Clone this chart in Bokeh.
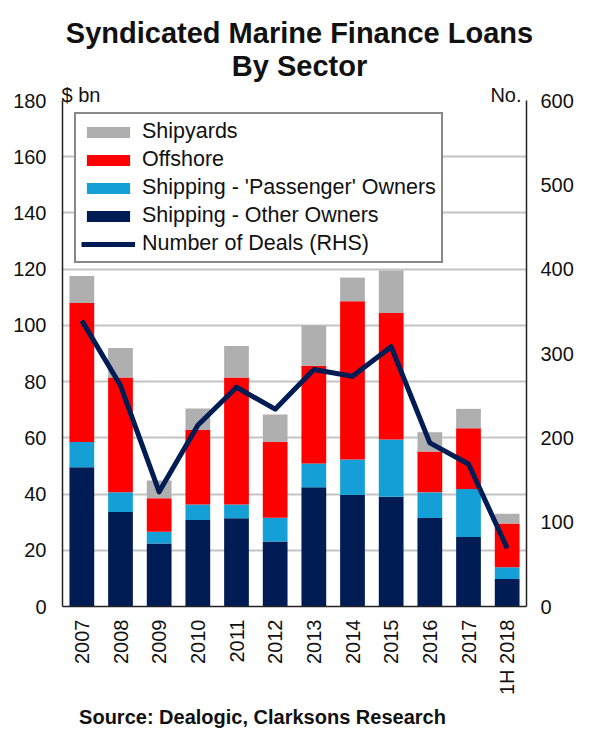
import math
from bokeh.plotting import figure
from bokeh.models import (FactorRange, Range1d, LinearAxis, FixedTicker, Legend,
                          LegendItem, ColumnDataSource)
from bokeh.core.properties import value
from bokeh.embed import file_html
from bokeh.resources import INLINE

# ---------------- data ----------------
years = ["2007", "2008", "2009", "2010", "2011", "2012", "2013", "2014",
         "2015", "2016", "2017", "1H 2018"]
other_owners = [49.5, 33.6, 22.4, 30.8, 31.4, 23.1, 42.4, 39.7, 39.0, 31.5, 24.7, 9.8]
passenger_owners = [9.0, 7.0, 4.2, 5.5, 4.9, 8.5, 8.5, 12.6, 20.4, 9.1, 17.1, 4.2]
offshore = [49.5, 40.9, 11.9, 26.5, 45.2, 26.9, 34.7, 56.3, 45.0, 14.5, 21.6, 15.5]
shipyards = [9.6, 10.5, 6.3, 7.6, 11.2, 9.8, 14.4, 8.4, 15.1, 6.9, 6.9, 3.5]
num_deals = [339, 262, 136, 215, 260, 234, 281, 273, 308, 194, 169, 69]

left_ticks = list(range(0, 181, 20))
right_ticks = list(range(0, 601, 100))

# ---------------- layout constants ----------------
W, H = 576, 730
FW, FH = 464, 506
ML, MT = 62, 100
MR = W - ML - FW
MB = H - MT - FH
FONT = "Liberation Sans"

NAVY = "#001C55"
LBLUE = "#14A0D6"
RED = "#FF0000"
GRAY = "#AFAFAF"
TXT = "#111111"

src = ColumnDataSource(dict(x=years, other=other_owners, passenger=passenger_owners,
                            offshore=offshore, shipyards=shipyards, deals=num_deals))

p = figure(x_range=FactorRange(factors=years, range_padding=0),
           y_range=Range1d(0, 180),
           frame_width=FW, frame_height=FH,
           min_border_left=ML, min_border_right=MR,
           min_border_top=MT, min_border_bottom=MB,
           output_backend="svg", toolbar_location=None,
           background_fill_color="white", border_fill_color="white")
p.extra_y_ranges = {"deals": Range1d(0, 600)}

stack = ["other", "passenger", "offshore", "shipyards"]
rs = p.vbar_stack(stack, x="x", width=0.64, source=src,
                  color=[NAVY, LBLUE, RED, GRAY], line_width=0)
ln = p.line(x="x", y="deals", source=src, y_range_name="deals",
            line_color=NAVY, line_width=5, line_join="round")

# axes
p.outline_line_color = None
p.xgrid.grid_line_color = None
p.ygrid.ticker = FixedTicker(ticks=left_ticks)
p.ygrid.grid_line_color = "#C4C4C4"
p.ygrid.grid_line_width = 2

yl = p.yaxis[0]
yl.ticker = FixedTicker(ticks=left_ticks)
yr = LinearAxis(y_range_name="deals", ticker=FixedTicker(ticks=right_ticks))
p.add_layout(yr, "right")
for ax in (yl, yr, p.xaxis[0]):
    ax.axis_line_color = "#222222"
    ax.axis_line_width = 1.5
    ax.major_tick_line_color = None
    ax.minor_tick_line_color = None
    ax.major_tick_out = 0
    ax.major_tick_in = 0
    ax.minor_tick_out = 0
    ax.major_label_text_font = FONT
    ax.major_label_text_font_size = "20px"
    ax.major_label_text_color = TXT
yl.major_label_standoff = 16
yr.major_label_standoff = 14
xa = p.xaxis[0]
xa.major_label_orientation = math.pi / 2
xa.major_label_standoff = 13

# legend
legend = Legend(items=[
    LegendItem(label="Shipyards", renderers=[rs[3]]),
    LegendItem(label="Offshore", renderers=[rs[2]]),
    LegendItem(label="Shipping - 'Passenger' Owners", renderers=[rs[1]]),
    LegendItem(label="Shipping - Other Owners", renderers=[rs[0]]),
    LegendItem(label="Number of Deals (RHS)", renderers=[ln]),
], location="top_left", margin=12, padding=5, spacing=3,
    glyph_width=54, glyph_height=14, label_standoff=7,
    label_text_font=FONT, label_text_font_size="21.5px", label_text_color=TXT,
    border_line_color=TXT, border_line_width=2,
    background_fill_color="white", background_fill_alpha=1.0)
p.add_layout(legend, "center")

# helpers converting figure pixel positions to data coords for text placement
def dx(fig_x):
    return (fig_x - ML) / FW * len(years)

def dy(fig_y):
    return (MT + FH - fig_y) / FH * 180

def add_text(text, fx, fy, size, bold=False, align="left"):
    p.text(x=[dx(fx)], y=[dy(fy)], text=[text], text_font=value(FONT),
           text_font_size=size, text_font_style="bold" if bold else "normal",
           text_align=align, text_baseline="alphabetic", text_color=TXT,
           level="overlay")

add_text("Syndicated Marine Finance Loans", 299, 32, "29px", bold=True, align="center")
add_text("By Sector", 299, 65, "29px", bold=True, align="center")
add_text("$ bn", 61, 94, "20px")
add_text("No.", 521, 94, "20px", align="right")
add_text("Source: Dealogic, Clarksons Research", 262, 716, "20px", bold=True, align="center")

open("out.html", "w").write(file_html(p, INLINE))
